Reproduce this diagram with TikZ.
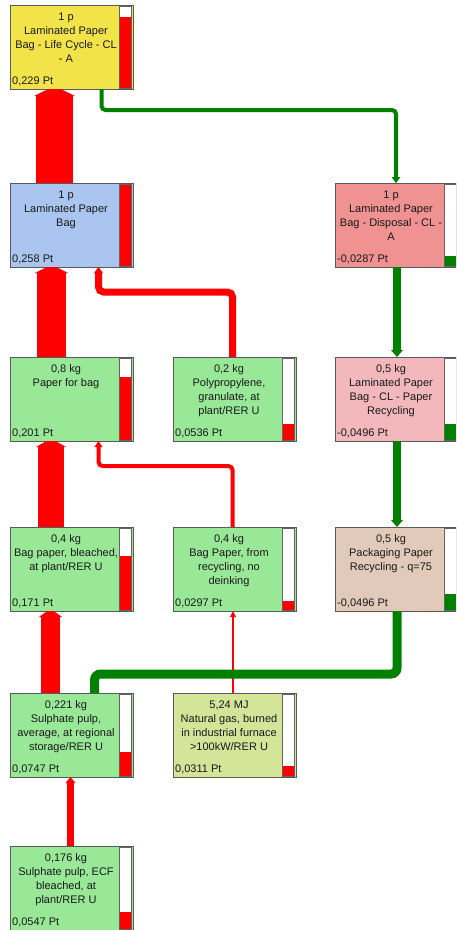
\documentclass[tikz,border=0pt]{standalone}
\usepackage{fontspec}
\setmainfont{Liberation Sans}
\usetikzlibrary{calc}
\definecolor{cyel}{RGB}{242,228,72}
\definecolor{cblue}{RGB}{170,198,240}
\definecolor{cdis}{RGB}{240,146,146}
\definecolor{cpink}{RGB}{242,184,188}
\definecolor{ctan}{RGB}{226,202,186}
\definecolor{cgreen}{RGB}{152,232,152}
\definecolor{cgas}{RGB}{212,228,152}
\definecolor{cborder}{RGB}{90,90,90}
\definecolor{cbar}{RGB}{100,100,100}
\definecolor{cred}{RGB}{255,0,0}
\definecolor{cgr}{RGB}{0,128,0}
\definecolor{ctext}{RGB}{25,25,25}
\tikzset{
  pbox/.style={rectangle, draw=cborder, line width=0.9pt, minimum width=123pt, minimum height=84pt, anchor=north west, inner sep=0pt, outer sep=0pt},
  ptitle/.style={anchor=north, align=center, inner sep=0pt, text=ctext, font=\fontsize{11}{14}\selectfont},
  pval/.style={anchor=base west, inner sep=0pt, text=ctext, font=\fontsize{11}{14}\selectfont},
  barframe/.style={draw=cbar, line width=0.6pt},
  rline/.style={draw=cred, line cap=butt},
  gline/.style={draw=cgr, line cap=butt}
}
% name, x, y, fill, title, value, fraction, barcolour
\newcommand\procbox[8]{%
  \node[pbox, fill=#4] (#1) at (#2,#3) {};
  \node[ptitle] (#1t) at ($(#1.north west)+(56,7)$) {\rule{0pt}{8pt}#5};
  \node[pval] (#1v) at ($(#1.south west)+(2,-5)$) {#6};
  \fill[white] ($(#1.north west)+(109,1)$) rectangle ($(#1.south west)+(121,-1)$);
  \fill[#8] ($(#1.south west)+(109,-1)$) rectangle ($(#1.south west)+(121,{-1-#7*82})$);
  \draw[barframe] ($(#1.north west)+(109,1)$) rectangle ($(#1.south west)+(121,-1)$);
}
% arrow head pointing up into the bottom of node #1
\newcommand\headup[4]{%
  \fill[cred] ($(#1.south west)+({#2-#3},#4)$) -- ($(#1.south west)+(#2,0)$) -- ($(#1.south west)+({#2+#3},#4)$) -- cycle;}
% arrow head pointing down into the top of node #1
\newcommand\headdown[5]{%
  \fill[#5] ($(#1.north west)+({#2-#3},{-#4})$) -- ($(#1.north west)+(#2,0)$) -- ($(#1.north west)+({#2+#3},{-#4})$) -- cycle;}
% fat red arrow from top of #1 to bottom of #2, shaft x1..x2, head length #5
\newcommand\fatarrowup[5]{%
  \fill[cred] ($(#1.north west)+(#3,0)$) rectangle ($(#2.south west)+(#4,#5)$);
  \fill[cred] ($(#2.south west)+({#3-2},#5)$) -- ($(#2.south west)+({(#3+#4)/2-(#4-#3)/6},0)$) -- ($(#2.south west)+({(#3+#4)/2+(#4-#3)/6},0)$) -- ($(#2.south west)+({#4+2},#5)$) -- cycle;}
\begin{document}
\begin{tikzpicture}[x=1pt,y=-1pt]
\useasboundingbox (0,0) rectangle (456,930);
\fill[white] (0,0) rectangle (456,930);
\clip (0,0) rectangle (456,930);

\procbox{yel}{10}{5}{cyel}{1 p\\Laminated Paper\\Bag - Life Cycle - CL\\- A}{0,229 Pt}{0.87}{cred}
\procbox{blu}{10}{183}{cblue}{1 p\\Laminated Paper\\Bag}{0,258 Pt}{1.0}{cred}
\procbox{dis}{335}{183}{cdis}{1 p\\Laminated Paper\\Bag - Disposal - CL -\\A}{-0,0287 Pt}{0.12}{cgr}
\procbox{pfb}{10}{357}{cgreen}{0,8 kg\\Paper for bag}{0,201 Pt}{0.77}{cred}
\procbox{pp}{173}{357}{cgreen}{0,2 kg\\Polypropylene,\\granulate, at\\plant/RER U}{0,0536 Pt}{0.2}{cred}
\procbox{lpr}{335}{357}{cpink}{0,5 kg\\Laminated Paper\\Bag - CL - Paper\\Recycling}{-0,0496 Pt}{0.2}{cgr}
\procbox{bpb}{10}{527}{cgreen}{0,4 kg\\Bag paper, bleached,\\at plant/RER U}{0,171 Pt}{0.66}{cred}
\procbox{bpr}{173}{527}{cgreen}{0,4 kg\\Bag Paper, from\\recycling, no\\deinking}{0,0297 Pt}{0.11}{cred}
\procbox{ppr}{335}{527}{ctan}{0,5 kg\\Packaging Paper\\Recycling - q=75}{-0,0496 Pt}{0.2}{cgr}
\procbox{spa}{10}{693}{cgreen}{0,221 kg\\Sulphate pulp,\\average, at regional\\storage/RER U}{0,0747 Pt}{0.29}{cred}
\procbox{ng}{173}{693}{cgas}{5,24 MJ\\Natural gas, burned\\in industrial furnace\\>100kW/RER U}{0,0311 Pt}{0.12}{cred}
\procbox{ecf}{10}{846}{cgreen}{0,176 kg\\Sulphate pulp, ECF\\bleached, at\\plant/RER U}{0,0547 Pt}{0.21}{cred}

% fat red arrows, column 1
\fatarrowup{blu}{yel}{26}{63}{7}
\fatarrowup{pfb}{blu}{27}{56}{6}
\fatarrowup{bpb}{pfb}{28}{54}{6}
\fatarrowup{spa}{bpb}{31}{50}{6}

% thinner red connectors
\draw[rline, line width=7pt, rounded corners=5pt] ($(pp.north west)+(59.5,0)$) |- ($(blu.south west)+(88.5,25)$) -- ($(blu.south west)+(88.5,5)$);
\headup{blu}{88.5}{4.5}{6}
\draw[rline, line width=4pt, rounded corners=4pt] ($(bpr.north west)+(59.5,0)$) |- ($(pfb.south west)+(88.5,25)$) -- ($(pfb.south west)+(88.5,5)$);
\headup{pfb}{88.5}{4}{6}
\draw[rline, line width=2pt] ($(ng.north west)+(60,0)$) -- ($(bpr.south west)+(60,5)$);
\headup{bpr}{60}{3}{6}
\draw[rline, line width=7pt] ($(ecf.north west)+(60.5,0)$) -- ($(spa.south west)+(60.5,5)$);
\headup{spa}{60.5}{5}{6}

% green connectors
\draw[gline, line width=4pt, rounded corners=4pt] ($(yel.south west)+(91.5,0)$) |- ($(dis.north west)+(61,-73)$) -- ($(dis.north west)+(61,-5)$);
\headdown{dis}{61}{4.5}{6}{cgr}
\draw[gline, line width=8pt] ($(dis.south west)+(62,0)$) -- ($(lpr.north west)+(62,-6)$);
\headdown{lpr}{62}{6}{7}{cgr}
\draw[gline, line width=8pt] ($(lpr.south west)+(62,0)$) -- ($(ppr.north west)+(62,-6)$);
\headdown{ppr}{62}{6}{7}{cgr}
\draw[gline, line width=9pt, rounded corners=6pt] ($(ppr.south west)+(62,0)$) |- ($(spa.north west)+(84.5,-19)$) -- ($(spa.north west)+(84.5,0)$);
\end{tikzpicture}
\end{document}
